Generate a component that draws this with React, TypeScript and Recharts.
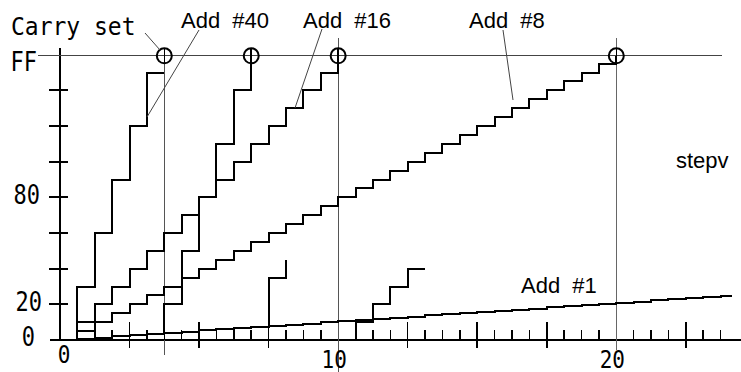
import React from 'react';
import { LineChart, Line, XAxis, YAxis, ReferenceLine, ReferenceDot } from 'recharts';

// x = add step number, y = accumulator byte (axes are labelled in hex)
const add48X = [0, 1, 2, 3, 4, 5, 6];
const add48Y = [0, 48, 96, 144, 192, 240, 240];
const add48WrapX = [6, 6, 7, 8, 9, 10, 11];
const add48WrapY = [6, 32, 80, 128, 176, 224, 255];
const add48Wrap2X = [12, 12, 13];
const add48Wrap2Y = [13, 56, 72];

const add16X = [0, 1, 2, 3, 4, 5, 6, 7, 8, 9, 10, 11, 12, 13, 14, 15, 16];
const add16Y = [0, 16, 32, 48, 64, 80, 96, 112, 128, 144, 160, 176, 192, 208, 224, 240, 255];
const add16WrapX = [17, 17, 18, 19, 20, 21];
const add16WrapY = [0, 16, 32, 48, 64, 64];

const add8X = [
  0, 1, 2, 3, 4, 5, 6, 7, 8, 9, 10, 11, 12, 13, 14, 15, 16,
  17, 18, 19, 20, 21, 22, 23, 24, 25, 26, 27, 28, 29, 30, 31, 32,
];
const add8Y = [
  0, 8, 16, 24, 32, 40, 48, 56, 64, 72, 80, 88, 96, 104, 112, 120, 128,
  136, 144, 152, 160, 168, 176, 184, 192, 200, 208, 216, 224, 232, 240, 248, 255,
];

const add1X = [
  0, 1, 2, 3, 4, 5, 6, 7, 8, 9, 10, 11, 12, 13, 14, 15, 16, 17, 18, 19,
  20, 21, 22, 23, 24, 25, 26, 27, 28, 29, 30, 31, 32, 33, 34, 35, 36, 37, 38, 38.6,
];
const add1Y = [
  0, 1, 2, 3.2, 4.3, 5.4, 6.5, 7.5, 8.6, 9.6, 10.7, 11.7, 12.8, 13.8, 14.8, 15.9, 16.9, 17.9, 18.9, 19.9,
  21, 22, 23, 24, 25.1, 26.1, 27.2, 28.2, 29.3, 30.3, 31.4, 32.4, 33.5, 34.5, 35.5, 36.6, 37.6, 38.6, 39.7, 40.3,
];

// carry points sit on FF
const carryX = [6, 11, 16, 32];

const xTickValues = [
  0, 1, 2, 3, 4, 5, 6, 7, 8, 9, 10, 11, 12, 13, 14, 15, 16, 17, 18, 19,
  20, 21, 22, 23, 24, 25, 26, 27, 28, 29, 30, 31, 32, 33, 34, 35, 36, 37, 38,
];
const xLabelValues = [0, 16, 32];
const xLabelText = ['0', '10', '20'];

const yTickValues = [0, 32, 64, 96, 128, 160, 192, 224, 255];
const yLabelValues = [0, 32, 128, 255];
const yLabelText = ['0', '20', '80', 'FF'];

const toPoints = (xs: number[], ys: number[]) => xs.map((x, i) => ({ x, y: ys[i] }));

const MONO = '"DejaVu Sans Mono", monospace';
const SANS = '"Liberation Sans", Arial, sans-serif';

const XTick = ({ x, y, payload }: any) => {
  const v = payload.value;
  const li = xLabelValues.indexOf(v);
  const isGrid = v === 0 || v === 16 || v === 32;
  const isLong = v % 4 === 0;
  return (
    <g>
      {!isGrid && (
        <line
          x1={x} x2={x}
          y1={isLong ? y - 18 : y - 10}
          y2={isLong ? y + 8 : y}
          stroke="#000" strokeWidth={1.5}
        />
      )}
      {li >= 0 && (
        <text
          transform={`translate(${v === 0 ? x + 4 : x - 4},${v === 0 ? y + 23 : y + 28}) scale(1,1.2)`}
          textAnchor="middle" fontFamily={MONO} fontSize={21} fill="#000"
        >
          {xLabelText[li]}
        </text>
      )}
    </g>
  );
};

const YTick = ({ x, y, payload }: any) => {
  const v = payload.value;
  const li = yLabelValues.indexOf(v);
  const cross = v !== 0 && v !== 255;
  // nudges so each hex label sits where the original put it
  const dx = v === 255 ? -23 : v === 0 ? -25 : v === 32 ? -18 : -20;
  const dy = v === 255 ? 15 : v === 0 ? 6 : 7;
  return (
    <g>
      {cross && <line x1={x - 11} x2={x + 8} y1={y} y2={y} stroke="#000" strokeWidth={2} />}
      {li >= 0 && (
        <text
          transform={`translate(${x + dx},${y + dy}) scale(1,1.2)`}
          textAnchor="end" fontFamily={MONO} fontSize={22} fill="#000"
        >
          {yLabelText[li]}
        </text>
      )}
    </g>
  );
};

const CarryMark = ({ cx, cy }: any) => (
  <g>
    <circle cx={cx} cy={cy} r={7.5} fill="none" stroke="#000" strokeWidth={2} />
    <line x1={cx} x2={cx} y1={cy - 7.5} y2={cy + 7.5} stroke="#000" strokeWidth={1.5} />
  </g>
);

const stairs = [
  toPoints(add48X, add48Y),
  toPoints(add48WrapX, add48WrapY),
  toPoints(add48Wrap2X, add48Wrap2Y),
  toPoints(add16X, add16Y),
  toPoints(add16WrapX, add16WrapY),
  toPoints(add8X, add8Y),
  toPoints(add1X, add1Y),
];

export default function App() {
  return (
    <div className="chart" style={{ position: 'absolute', left: 0, top: 0, width: 741, height: 372, background: '#fff' }}>
      <style>{`.chart .recharts-surface path, .chart .recharts-surface line { shape-rendering: crispEdges; }`}</style>
      <LineChart width={741} height={372} margin={{ top: 38, right: 3, bottom: 0, left: 0 }}>
        <XAxis
          type="number" dataKey="x" domain={[0, 39]} allowDataOverflow
          ticks={xTickValues} interval={0} height={32}
          axisLine={false} tickLine={false} tickSize={0} tickMargin={0} tick={<XTick />}
        />
        <YAxis
          type="number" domain={[0, 271]} allowDataOverflow
          ticks={yTickValues} interval={0} width={60}
          axisLine={false} tickLine={false} tickSize={0} tickMargin={0} tick={<YTick />}
        />
        {/* axes, FF line and the vertical markers */}
        <ReferenceLine segment={[{ x: -0.57, y: 0 }, { x: 39.2, y: 0 }]} stroke="#000" strokeWidth={2} ifOverflow="visible" />
        <ReferenceLine segment={[{ x: 0, y: 0 }, { x: 0, y: 262 }]} stroke="#000" strokeWidth={2} ifOverflow="visible" />
        <ReferenceLine segment={[{ x: -1.27, y: 255 }, { x: 38.1, y: 255 }]} stroke="#444" strokeWidth={1} ifOverflow="visible" />
        <ReferenceLine segment={[{ x: 6, y: 262 }, { x: 6, y: -13.5 }]} stroke="#555" strokeWidth={1} ifOverflow="visible" />
        <ReferenceLine segment={[{ x: 16, y: 271 }, { x: 16, y: -28.7 }]} stroke="#555" strokeWidth={1} ifOverflow="visible" />
        <ReferenceLine segment={[{ x: 32, y: 271 }, { x: 32, y: -9 }]} stroke="#666" strokeWidth={1} ifOverflow="visible" />
        {stairs.map((pts, i) => (
          <Line
            key={`s-${i}`} data={pts} dataKey="y" type="stepAfter"
            stroke="#000" strokeWidth={2} dot={false} activeDot={false}
            isAnimationActive={false}
          />
        ))}
        {carryX.map((cx) => (
          <ReferenceDot key={`c-${cx}`} x={cx} y={255} r={7} shape={<CarryMark />} ifOverflow="visible" />
        ))}
      </LineChart>
      <svg width={741} height={372} style={{ position: 'absolute', left: 0, top: 0, pointerEvents: 'none' }}>
        <g stroke="#444" strokeWidth={1}>
          <line x1={145} y1={33} x2={160} y2={50} />
          <line x1={199} y1={30} x2={147} y2={117} />
          <line x1={322} y1={29} x2={295} y2={108} />
          <line x1={503} y1={30} x2={513} y2={100} />
        </g>
        <text transform="translate(11,35) scale(1,1.07)" fontFamily={MONO} fontSize={23} fill="#000">Carry set</text>
        <g fontFamily={SANS} fontSize={22} fill="#000">
          <text x={181} y={28} xmlSpace="preserve">{'Add  #40'}</text>
          <text x={303} y={28} xmlSpace="preserve">{'Add  #16'}</text>
          <text x={469} y={28} xmlSpace="preserve">{'Add  #8'}</text>
          <text x={521} y={293} xmlSpace="preserve">{'Add  #1'}</text>
          <text x={676} y={168}>stepv</text>
        </g>
      </svg>
    </div>
  );
}
